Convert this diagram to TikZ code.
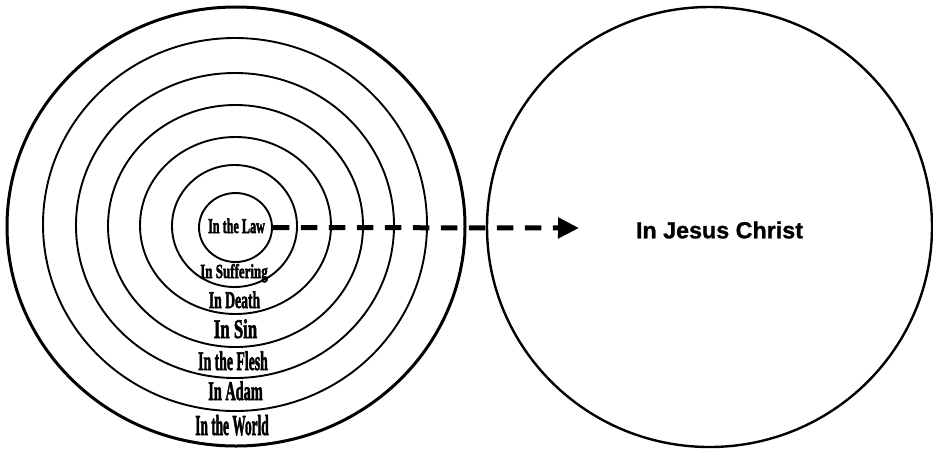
\documentclass[tikz,border=0pt]{standalone}
\usepackage{fontspec}
\setmainfont{Liberation Serif}[BoldFeatures={FakeBold=2.5}]
\newfontfamily\arialfont{Liberation Sans}[BoldFeatures={FakeBold=1}]
\usetikzlibrary{shapes.geometric,arrows.meta}
\tikzset{
  ring/.style={draw, ellipse, inner sep=0pt, line width=1.9pt},
  outerring/.style={ring, line width=3pt},
  lab/.style={inner sep=0pt, anchor=base},
  dasharrow/.style={line width=5pt, dash pattern=on 16.5pt off 11.5pt,
    -{Triangle[length=21pt,width=20pt]}},
}
\newcommand{\wordart}[3]{\scalebox{#1}[1]{\fontsize{#2}{#2}\selectfont\bfseries #3}}
\begin{document}
\begin{tikzpicture}[x=1pt,y=-1pt]
\useasboundingbox (0,0) rectangle (933,451);
% concentric rings
\node[outerring, minimum width=458pt, minimum height=439pt] (world) at (236,226.5) {};
\node[ring, minimum width=384pt, minimum height=373pt] (adam) at (235,224.5) {};
\node[ring, minimum width=318pt, minimum height=305pt] (flesh) at (235,225.5) {};
\node[ring, minimum width=255pt, minimum height=242pt] (sin) at (235.5,226) {};
\node[ring, minimum width=191pt, minimum height=177pt] (death) at (235.5,225.5) {};
\node[ring, minimum width=125pt, minimum height=122pt] (suffering) at (234.5,226) {};
\node[ring, minimum width=73pt, minimum height=69pt] (law) at (235.5,227.5) {};
% labels
\node[lab] (tlaw) at (236.5,233) {\wordart{0.58}{21}{In the Law}};
\node[lab] (tsuf) at (234,278) {\wordart{0.65}{20}{In Suffering}};
\node[lab] (tdeath) at (234.5,308) {\wordart{0.57}{24}{In Death}};
\node[lab] (tsin) at (235.5,338) {\wordart{0.62}{27}{In Sin}};
\node[lab] (tflesh) at (233,370) {\wordart{0.51}{27}{In the Flesh}};
\node[lab] (tadam) at (235.5,400) {\wordart{0.53}{27}{In Adam}};
\node[lab] (tworld) at (232,435) {\wordart{0.46}{29}{In the World}};
% right circle
\node[draw, ellipse, inner sep=0pt, line width=2.4pt, minimum width=445pt, minimum height=440pt] (christ) at (709.5,227) {};
\node[inner sep=0pt] (tchrist) at (719.5,230) {\fontsize{23.3}{23.3}\selectfont\arialfont\bfseries In Jesus Christ};
% arrow
\coordinate (tip) at (579,228);
\draw[dasharrow] (law.east) -- (tip);
\end{tikzpicture}
\end{document}
